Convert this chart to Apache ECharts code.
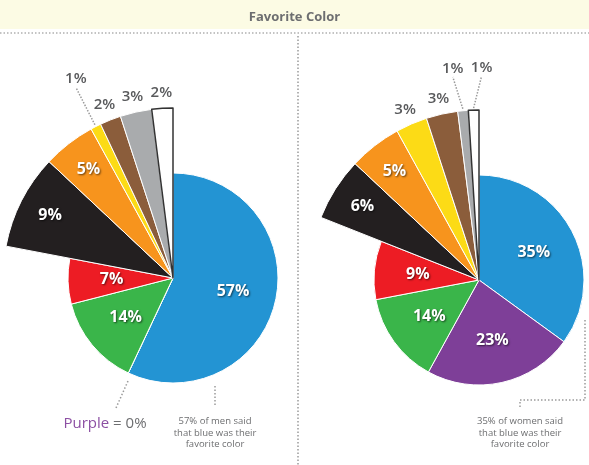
<!DOCTYPE html>
<html>
<head>
<meta charset="utf-8">
<script src="https://cdn.jsdelivr.net/npm/echarts@6/dist/echarts.min.js"></script>
<style>
html, body { margin: 0; padding: 0; background: #fff; }
#main { width: 589px; height: 465px; }
</style>
</head>
<body>
<div id="main"></div>
<script>
// data
var colorNames = ['Blue', 'Purple', 'Green', 'Red', 'Black', 'Orange', 'Yellow', 'Brown', 'Gray', 'White'];
var menValues = [57, 0, 14, 7, 9, 5, 1, 2, 3, 2];
var womenValues = [35, 23, 14, 9, 6, 5, 3, 3, 1, 1];
var sliceColors = ['#2394d3', '#7e3f98', '#3ab54a', '#ed1c24', '#231f20', '#f7941d', '#fcdb16', '#8b5d3b', '#a9abad', '#ffffff'];

var myChart = echarts.init(document.getElementById('main'));

var FONT = 'Open Sans';
// Black and the smaller colors sit on the bigger radius
function isBig(i) { return i >= 4; }

function items(values, visible, labelOn) {
    return colorNames.map(function (n, i) {
        var it = { name: n, value: values[i] };
        if (visible && visible(i)) {
            it.itemStyle = {
                color: sliceColors[i],
                borderColor: n === 'White' ? '#333' : '#fff',
                borderWidth: n === 'White' ? 1.5 : 1
            };
        } else {
            it.itemStyle = { color: 'transparent', borderWidth: 0 };
        }
        var on = !!(labelOn && labelOn(i) && values[i] > 0);
        it.label = { show: on };
        it.labelLine = { show: on };
        return it;
    });
}

function pieSeries(center, values, leaders, leaderLen, shifts) {
    var base = {
        type: 'pie', center: center, startAngle: 90, clockwise: true,
        silent: true, avoidLabelOverlap: false, animation: false,
        labelLine: { show: false }
    };
    var inLabel = {
        position: 'inside', formatter: '{c}%', color: '#fff', fontFamily: FONT,
        fontWeight: 'bold', fontSize: 16,
        textShadowColor: 'rgba(0,0,0,0.6)', textShadowBlur: 2,
        textShadowOffsetX: 1, textShadowOffsetY: 1
    };
    var outLabel = {
        position: 'inside', formatter: '{c}%', color: '#595a5c', fontFamily: FONT,
        fontWeight: 600, fontSize: 15
    };
    function isLeader(i) { return leaders.indexOf(i) >= 0; }
    return [
        Object.assign({}, base, { radius: 105, data: items(values, function (i) { return !isBig(i); }), label: { show: false } }),
        Object.assign({}, base, { radius: 170, data: items(values, isBig), label: { show: false } }),
        // labels inside the small slices
        Object.assign({}, base, { radius: [12, 105], data: items(values, null, function (i) { return !isBig(i); }), label: inLabel }),
        // labels inside Black / Orange
        Object.assign({}, base, { radius: [100, 170], data: items(values, null, function (i) { return i === 4 || i === 5; }), label: inLabel }),
        // labels just over the thin slices
        Object.assign({}, base, { radius: [170, 196], data: items(values, null, function (i) { return i > 5 && !isLeader(i); }), label: outLabel }),
        // labels on dotted leaders
        Object.assign({}, base, {
            radius: 172,
            data: items(values, null, isLeader),
            label: Object.assign({}, outLabel, { position: 'outside' }),
            labelLine: {
                show: true, length: leaderLen, length2: 0,
                lineStyle: { color: '#9a9a9a', type: 'dotted', width: 1.5 }
            },
            labelLayout: function (p) {
                var pts = p.labelLinePoints;
                if (!pts || !pts.length) return {};
                var s = shifts[p.dataIndex] || 0;
                var a = pts[0];
                var b = [pts[1][0] + s, pts[1][1]];
                return { x: b[0], y: b[1] - 1, align: 'center', verticalAlign: 'bottom', labelLinePoints: [a, b] };
            }
        })
    ];
}

var dotted = { stroke: '#9a9a9a', lineWidth: 1.5, lineDash: [1.5, 2] };
var noteStyle = { fill: '#6d6e70', fontFamily: FONT, fontSize: 9.5, lineHeight: 11.5, align: 'center' };

var option = {
    backgroundColor: '#fff',
    title: {
        text: 'Favorite Color', left: 'center', top: 6,
        textStyle: { fontFamily: FONT, fontWeight: 'bold', fontSize: 13, color: '#6d6e70' }
    },
    graphic: [
        { type: 'rect', z: -1, shape: { x: 0, y: 0, width: 589, height: 29 }, style: { fill: '#fcfbe4' } },
        { type: 'line', shape: { x1: 0, y1: 33, x2: 589, y2: 33 }, style: { stroke: '#b0b0b0', lineWidth: 1.5, lineDash: [1.5, 2] } },
        { type: 'line', shape: { x1: 298, y1: 36, x2: 298, y2: 465 }, style: dotted },
        // men notes
        { type: 'line', shape: { x1: 128, y1: 381, x2: 116, y2: 408 }, style: dotted },
        {
            type: 'text', x: 105, y: 424,
            style: {
                text: '{p|' + colorNames[1] + '} = ' + menValues[1] + '%',
                fill: '#6d6e70', fontFamily: FONT, fontSize: 15, align: 'center', verticalAlign: 'middle',
                rich: { p: { fill: '#8c4fa3', fontFamily: FONT, fontSize: 15 } }
            }
        },
        { type: 'line', shape: { x1: 215, y1: 386, x2: 215, y2: 407 }, style: dotted },
        {
            type: 'text', x: 215, y: 416,
            style: Object.assign({ text: menValues[0] + '% of men said\nthat blue was their\nfavorite color' }, noteStyle)
        },
        // women notes
        { type: 'polyline', shape: { points: [[585, 320], [585, 400], [520, 400], [520, 409]] }, style: Object.assign({ fill: null }, dotted) },
        {
            type: 'text', x: 520, y: 416,
            style: Object.assign({ text: womenValues[0] + '% of women said\nthat blue was their\nfavorite color' }, noteStyle)
        }
    ],
    series: [].concat(
        pieSeries([173, 278], menValues, [6], 42, {}),
        pieSeries([479, 280], womenValues, [8, 9], 32, { 8: -7, 9: 9 })
    )
};

myChart.setOption(option);
</script>
</body>
</html>
